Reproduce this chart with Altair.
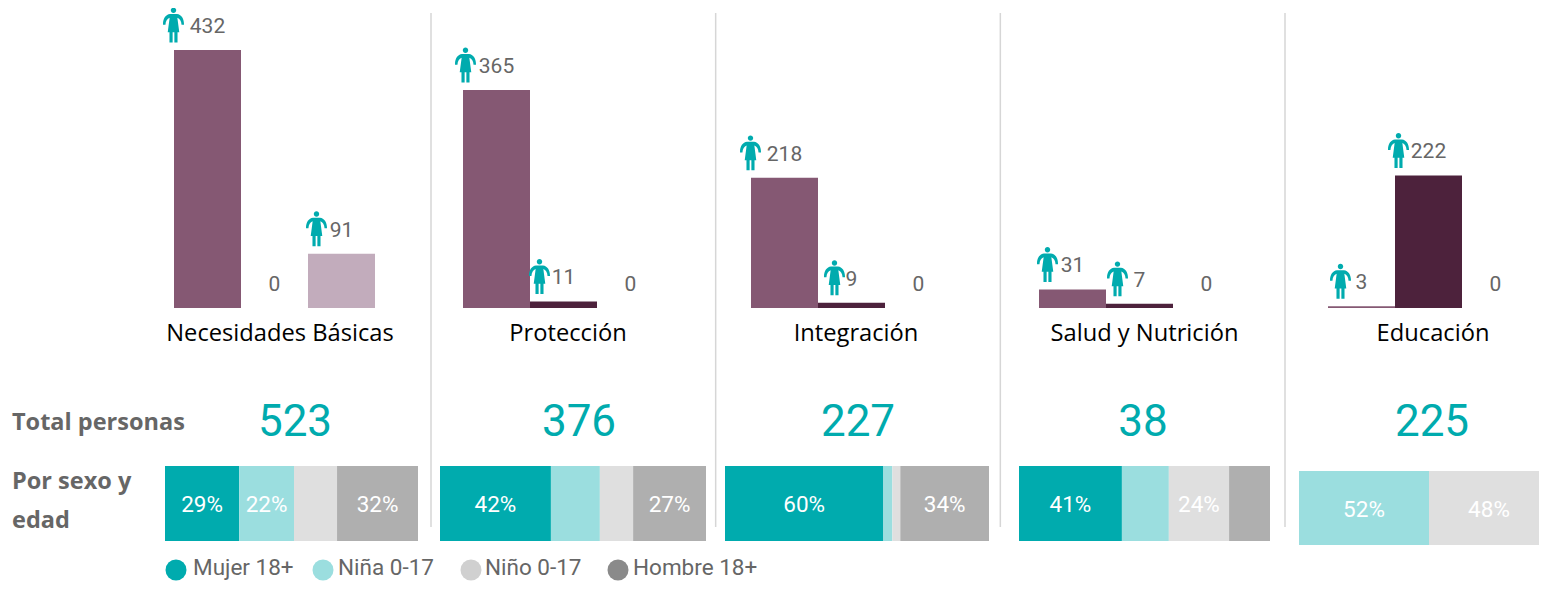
import altair as alt
import pandas as pd

PANELS = ["Necesidades Básicas", "Protección", "Integración", "Salud y Nutrición", "Educación"]
GROUPS = ["Grupo A", "Grupo B", "Grupo C"]
GROUP_COLORS = ["#855873", "#4D223C", "#C2ACBC"]
COUNTS = [[432, 0, 91], [365, 11, 0], [218, 9, 0], [31, 7, 0], [3, 222, 0]]
TOTALS = [523, 376, 227, 38, 225]

SEXES = ["Mujer 18+", "Niña 0-17", "Niño 0-17", "Hombre 18+"]
SEX_COLORS = ["#00ABAE", "#9BDEDF", "#DFDFDF", "#AFAFAF"]
LEGEND_COLORS = ["#00ABAE", "#9BDEDF", "#D0D0D0", "#8A8A8A"]
SHARES = [[29.3, 21.7, 17, 32], [41.7, 18.4, 12.5, 27.4], [60, 3.4, 3, 33.6], [41, 18.7, 24, 16.3], [0, 52, 48, 0]]
ROW_LABELS = ["Total personas", "Por sexo y", "edad"]

TEAL = "#00ABAE"
GREY = "#666666"
OFF = 8  # page margin
BAR_LEFT = [174, 463, 751, 1039, 1328]
BAND = 67
STACK_SPANS = [(165, 418, 466, 541), (440, 706, 466, 541), (725, 989, 466, 541), (1019, 1270, 466, 541), (1299, 1549, 471, 545)]
ICON_DX = {432: -34, 91: -25, 365: -31, 11: -24, 218: -34, 9: -17, 31: -25, 7: -22, 3: -21, 222: -30}
PERSON = ("M0.155 -0.84 A0.155 0.155 0 1 1 -0.155 -0.84 A0.155 0.155 0 1 1 0.155 -0.84 Z "
          "M-0.2 -0.63 L0.2 -0.63 C0.44 -0.6 0.6 -0.38 0.6 -0.05 L0.6 -0.02 L0.46 -0.02 "
          "C0.45 -0.22 0.36 -0.36 0.22 -0.42 L0.33 0.42 L0.23 0.42 L0.23 1 L0.05 1 L0.05 0.42 L-0.05 0.42 "
          "L-0.05 1 L-0.23 1 L-0.23 0.42 L-0.33 0.42 L-0.22 -0.42 C-0.36 -0.36 -0.45 -0.22 -0.46 -0.02 "
          "L-0.6 -0.02 L-0.6 -0.05 C-0.6 -0.38 -0.44 -0.6 -0.2 -0.63 Z")

group_color = alt.Color("grupo:N", scale=alt.Scale(domain=GROUPS, range=GROUP_COLORS), legend=None)
sex_color = alt.Color("sexo:N", scale=alt.Scale(domain=SEXES, range=SEX_COLORS), legend=None)
y_count = alt.Y("n:Q", axis=None, scale=alt.Scale(domain=[0, 432], range=[308 - OFF, 50 - OFF]))

layers = []

# separators
sep = pd.DataFrame({"s": [1, 2, 3, 4]})
layers.append(alt.Chart(sep).mark_rule(color="#D6D6D6", strokeWidth=1.5).encode(
    x=alt.X("s:O", axis=None, scale=alt.Scale(type="point", padding=0, range=[431 - OFF, 1285 - OFF])),
    y=alt.value(13 - OFF), y2=alt.value(527 - OFF)))

for i, panel in enumerate(PANELS):
    df = pd.DataFrame({"grupo": GROUPS, "n": COUNTS[i]})
    x_band = alt.X("grupo:N", axis=None, sort=GROUPS, scale=alt.Scale(
        domain=GROUPS, range=[BAR_LEFT[i] - OFF, BAR_LEFT[i] + 3 * BAND - OFF], paddingInner=0, paddingOuter=0))
    layers.append(alt.Chart(df).mark_bar(size=BAND).encode(x=x_band, y=y_count, color=group_color))
    layers.append(alt.Chart(df).mark_text(font="Roboto", fontSize=21, color=GREY, dy=-23).encode(
        x=x_band, y=y_count, text="n:Q"))
    for row in df[df.n > 0].to_dict("records"):
        layers.append(alt.Chart(pd.DataFrame([row])).mark_point(
            shape=PERSON, size=1225, filled=True, opacity=1, color=TEAL,
            xOffset=ICON_DX[row["n"]], yOffset=-25).encode(x=x_band, y=y_count))

    # stacked share bar
    vals = SHARES[i]
    total = sum(vals)
    start, acc = [], 0
    for v in vals:
        start.append(acc / total)
        acc += v
    st = pd.DataFrame({"sexo": SEXES, "pct": vals, "x0": start, "x1": [s + v / total for s, v in zip(start, vals)]})
    st["mid"] = (st.x0 + st.x1) / 2
    st["fila"] = "Por sexo y edad"
    l, r, t, b = STACK_SPANS[i]
    xs = alt.Scale(domain=[0, 1], range=[l - OFF, r - OFF])
    ys = alt.Y("fila:N", axis=None, scale=alt.Scale(range=[t - OFF, b - OFF], paddingInner=0, paddingOuter=0))
    st = st[st.pct > 0]
    layers.append(alt.Chart(st).mark_bar().encode(
        x=alt.X("x0:Q", axis=None, scale=xs), x2="x1:Q", y=ys, color=sex_color))
    lab = st[st.pct >= 20].assign(t=lambda d: d.pct.round().astype(int).astype(str) + "%")
    layers.append(alt.Chart(lab).mark_text(font="Roboto", fontSize=22.5, color="white", dy=1.5).encode(
        x=alt.X("mid:Q", axis=None, scale=xs), y=ys, text="t:N"))

# panel titles and totals
pn = pd.DataFrame({"i": range(5), "panel": PANELS, "total": TOTALS})
layers.append(alt.Chart(pn).mark_text(font="Open Sans", fontSize=23.7, color="black").encode(
    x=alt.X("i:Q", axis=None, scale=alt.Scale(domain=[0, 1, 2, 3, 4], range=[v - OFF for v in [280, 568, 856, 1144.5, 1433]])),
    y=alt.value(334 - OFF), text="panel:N"))
layers.append(alt.Chart(pn).mark_text(font="Roboto", fontSize=44, color=TEAL).encode(
    x=alt.X("i:Q", axis=None, scale=alt.Scale(domain=[0, 1, 2, 3, 4], range=[v - OFF for v in [295, 579, 858, 1143, 1432]])),
    y=alt.value(423 - OFF), text="total:Q"))

# left row labels
rows = pd.DataFrame({"i": range(3), "t": ROW_LABELS})
layers.append(alt.Chart(rows).mark_text(font="Open Sans", fontSize=23.5, fontWeight="bold", color=GREY, align="left").encode(
    x=alt.value(12 - OFF),
    y=alt.Y("i:Q", axis=None, scale=alt.Scale(domain=[0, 1, 2], range=[423 - OFF, 482 - OFF, 521 - OFF])),
    text="t:N"))

# legend row
leg = pd.DataFrame({"i": range(4), "sexo": SEXES})
layers.append(alt.Chart(leg).mark_point(filled=True, opacity=1, shape="circle", size=441).encode(
    x=alt.X("i:Q", axis=None, scale=alt.Scale(domain=[0, 1, 2, 3], range=[v - OFF for v in [176, 323, 471, 618]])),
    y=alt.value(570 - OFF),
    color=alt.Color("sexo:N", sort=None, legend=None, scale=alt.Scale(domain=SEXES, range=LEGEND_COLORS))))
layers.append(alt.Chart(leg).mark_text(font="Roboto", fontSize=22.5, color=GREY, align="left").encode(
    x=alt.X("i:Q", axis=None, scale=alt.Scale(domain=[0, 1, 2, 3], range=[v - OFF for v in [193, 338, 485, 633]])),
    y=alt.value(568 - OFF), text="sexo:N"))

chart = alt.layer(*layers).resolve_scale(x="independent", y="independent", color="independent").properties(
    width=1531, height=574, padding=0, autosize=alt.AutoSizeParams(type="none")
).configure_view(stroke=None)

chart.save("out.html", embed_options={"renderer": "svg", "actions": False})
